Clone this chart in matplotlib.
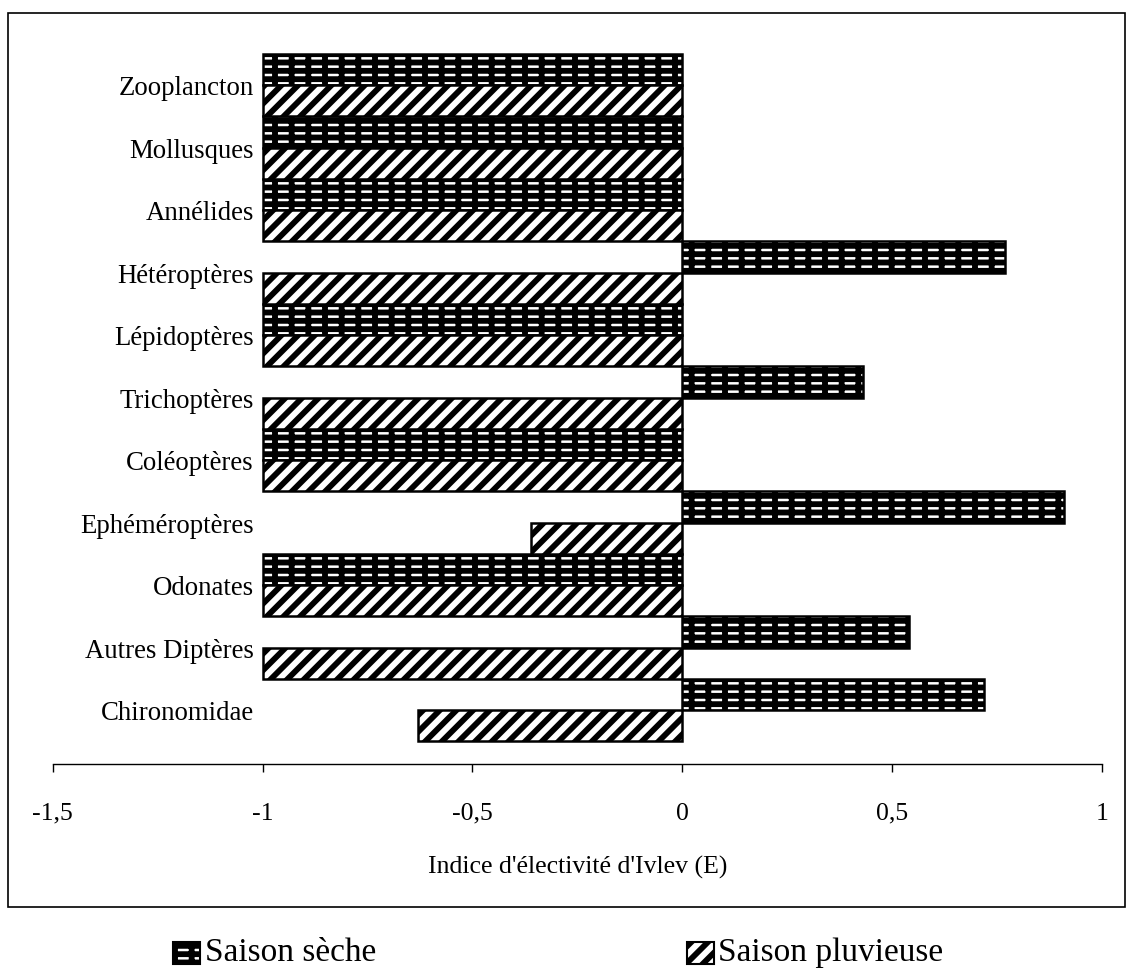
import matplotlib
matplotlib.use("Agg")
import matplotlib.pyplot as plt
from matplotlib.patches import Rectangle
import numpy as np

# ---- data (bottom to top) ----
categories = ["Chironomidae", "Autres Diptères", "Odonates", "Ephéméroptères",
              "Coléoptères", "Trichoptères", "Lépidoptères", "Hétéroptères",
              "Annélides", "Mollusques", "Zooplancton"]
saison_seche = [0.72, 0.54, -1, 0.91, -1, 0.43, -1, 0.77, -1, -1, -1]
saison_pluvieuse = [-0.63, -1, -1, -0.36, -1, -1, -1, -1, -1, -1, -1]
series_names = ["Saison sèche", "Saison pluvieuse"]
xticks = [-1.5, -1, -0.5, 0, 0.5, 1]
xlabel = "Indice d'électivité d'Ivlev (E)"

plt.rcParams['font.family'] = ['Liberation Serif', 'DejaVu Serif']
plt.rcParams['hatch.linewidth'] = 4.2

W, H = 1131, 975
fig = plt.figure(figsize=(W / 100, H / 100), dpi=100)

def fx(px):
    return px / W

def fy(py):
    return (H - py) / H

ax_left, ax_right = 52.7, 1102.0
ax_top_px, ax_bot_px = 30.0, 764.0
ax = fig.add_axes([fx(ax_left), fy(ax_bot_px), fx(ax_right) - fx(ax_left),
                   fy(ax_top_px) - fy(ax_bot_px)])

y = np.arange(len(categories))
h = 0.5
seche_hatch = '--|'
pluv_hatch = '//'
ax.barh(y + h / 2, saison_seche, height=h, facecolor='white', edgecolor='black',
        hatch=seche_hatch, linewidth=1.8, zorder=2)
ax.barh(y - h / 2, saison_pluvieuse, height=h, facecolor='white', edgecolor='black',
        hatch=pluv_hatch, linewidth=1.8, zorder=2)

# y range mapping: category center i at pixel 710 - 62.5*i
px_per_cat = 62.5
ax.set_ylim((710 - ax_bot_px) / px_per_cat, (710 - ax_top_px) / px_per_cat)
ax.set_xlim(-1.5, 1)

for i, c in enumerate(categories):
    ax.text(-1.021, i - 0.06, c, ha='right', va='center', fontsize=19.3, zorder=3)

ax.set_yticks([])
for s in ['left', 'right', 'top']:
    ax.spines[s].set_visible(False)
ax.spines['bottom'].set_linewidth(1.0)
ax.set_xticks(xticks)
ax.set_xticklabels([("%g" % t).replace('.', ',') for t in xticks], fontsize=18.5)
ax.tick_params(axis='x', direction='out', length=6, width=1.0, pad=22)

ax.set_xlabel(xlabel, fontsize=18.5, va='center')
ax.xaxis.set_label_coords(0.5, (ax_bot_px - 867) / (ax_bot_px - ax_top_px))

# outer frame
fig.add_artist(Rectangle((fx(8), fy(907)), fx(1125) - fx(8), fy(13) - fy(907),
                         transform=fig.transFigure, fill=False, edgecolor='black',
                         linewidth=1.2))

# legend (below frame)
leg_y = 953
items = [(173, 205, seche_hatch, series_names[0]), (687, 718, pluv_hatch, series_names[1])]
for mx, tx, hatch, name in items:
    fig.add_artist(Rectangle((fx(mx), fy(leg_y + 11)), fx(27), 22 / H,
                             transform=fig.transFigure, facecolor='white',
                             edgecolor='black', hatch=hatch, linewidth=1.5))
    fig.text(fx(tx), fy(leg_y), name, ha='left', va='center', fontsize=24)

fig.savefig("out.png", dpi=100)
